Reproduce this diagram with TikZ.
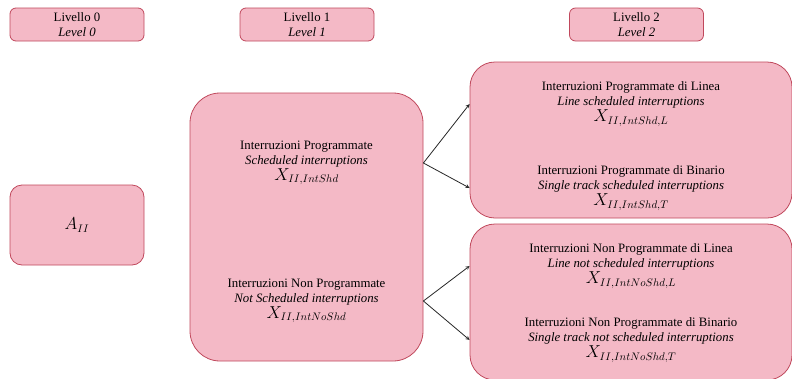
\documentclass[tikz,border=0pt]{standalone}
\usepackage{fontspec}
\setmainfont{Liberation Serif}
\newfontfamily\textserif{Liberation Serif}
\definecolor{boxfill}{RGB}{244,185,198}
\definecolor{boxline}{RGB}{192,72,92}
\newcommand{\bigX}[1]{{\fontsize{16}{16}\selectfont$X_{#1}$}}
\begin{document}
\begin{tikzpicture}[>=stealth,x=1pt,y=-1pt,
		box/.style={draw=boxline,fill=boxfill,line width=.8pt,align=center,inner sep=0pt},
		lvl/.style={box,minimum width=134pt,minimum height=33pt,rounded corners=6pt},
		txt/.style={align=center,inner sep=0pt},
		link/.style={->,black!85,line width=.8pt},
		every node/.style={font=\textserif\fontsize{12.8}{15}\selectfont}]
	\useasboundingbox (0,0) rectangle (792,378);
	% livelli
	\node[lvl] (lv0) at (77,24.5) {Livello 0\\\textit{Level 0}};
	\node[lvl] (lv1) at (307,24.5) {Livello 1\\\textit{Level 1}};
	\node[lvl] (lv2) at (636.5,24.5) {Livello 2\\\textit{Level 2}};
	% riquadri
	\node[box,minimum width=134pt,minimum height=80pt,rounded corners=12pt] (a) at (77,225) {{\fontsize{16}{16}\selectfont$A_{II}$}};
	\node[box,minimum width=233pt,minimum height=268pt,rounded corners=30pt] (l1) at (306.5,227) {};
	\node[box,minimum width=322pt,minimum height=156pt,rounded corners=25pt] (l2a) at (631,140) {};
	\node[box,minimum width=322pt,minimum height=156pt,rounded corners=25pt] (l2b) at (631,302) {};
	% testi
	\node[txt] (sched) at (306.5,163) {Interruzioni Programmate\\\textit{Scheduled interruptions}\\[1pt]\bigX{II,IntShd}};
	\node[txt] (nosched) at (306.5,301) {Interruzioni Non Programmate\\\textit{Not Scheduled interruptions}\\[1pt]\bigX{II,IntNoShd}};
	\node[txt] (linea) at (631,104) {Interruzioni Programmate di Linea\\\textit{Line scheduled interruptions}\\[1pt]\bigX{II,IntShd,L}};
	\node[txt] (binario) at (631,188) {Interruzioni Programmate di Binario\\\textit{Single track scheduled interruptions}\\[1pt]\bigX{II,IntShd,T}};
	\node[txt] (nlinea) at (631,266) {Interruzioni Non Programmate di Linea\\\textit{Line not scheduled interruptions}\\[1pt]\bigX{II,IntNoShd,L}};
	\node[txt] (nbinario) at (631,340) {Interruzioni Non Programmate di Binario\\\textit{Single track not scheduled interruptions}\\[1pt]\bigX{II,IntNoShd,T}};
	% frecce
	\draw[link] (l1.east |- sched) -- (l2a.west |- linea);
	\draw[link] (l1.east |- sched) -- (l2a.west |- binario);
	\draw[link] (l1.east |- nosched) -- (l2b.west |- nlinea);
	\draw[link] (l1.east |- nosched) -- (l2b.west |- nbinario);
\end{tikzpicture}
\end{document}
